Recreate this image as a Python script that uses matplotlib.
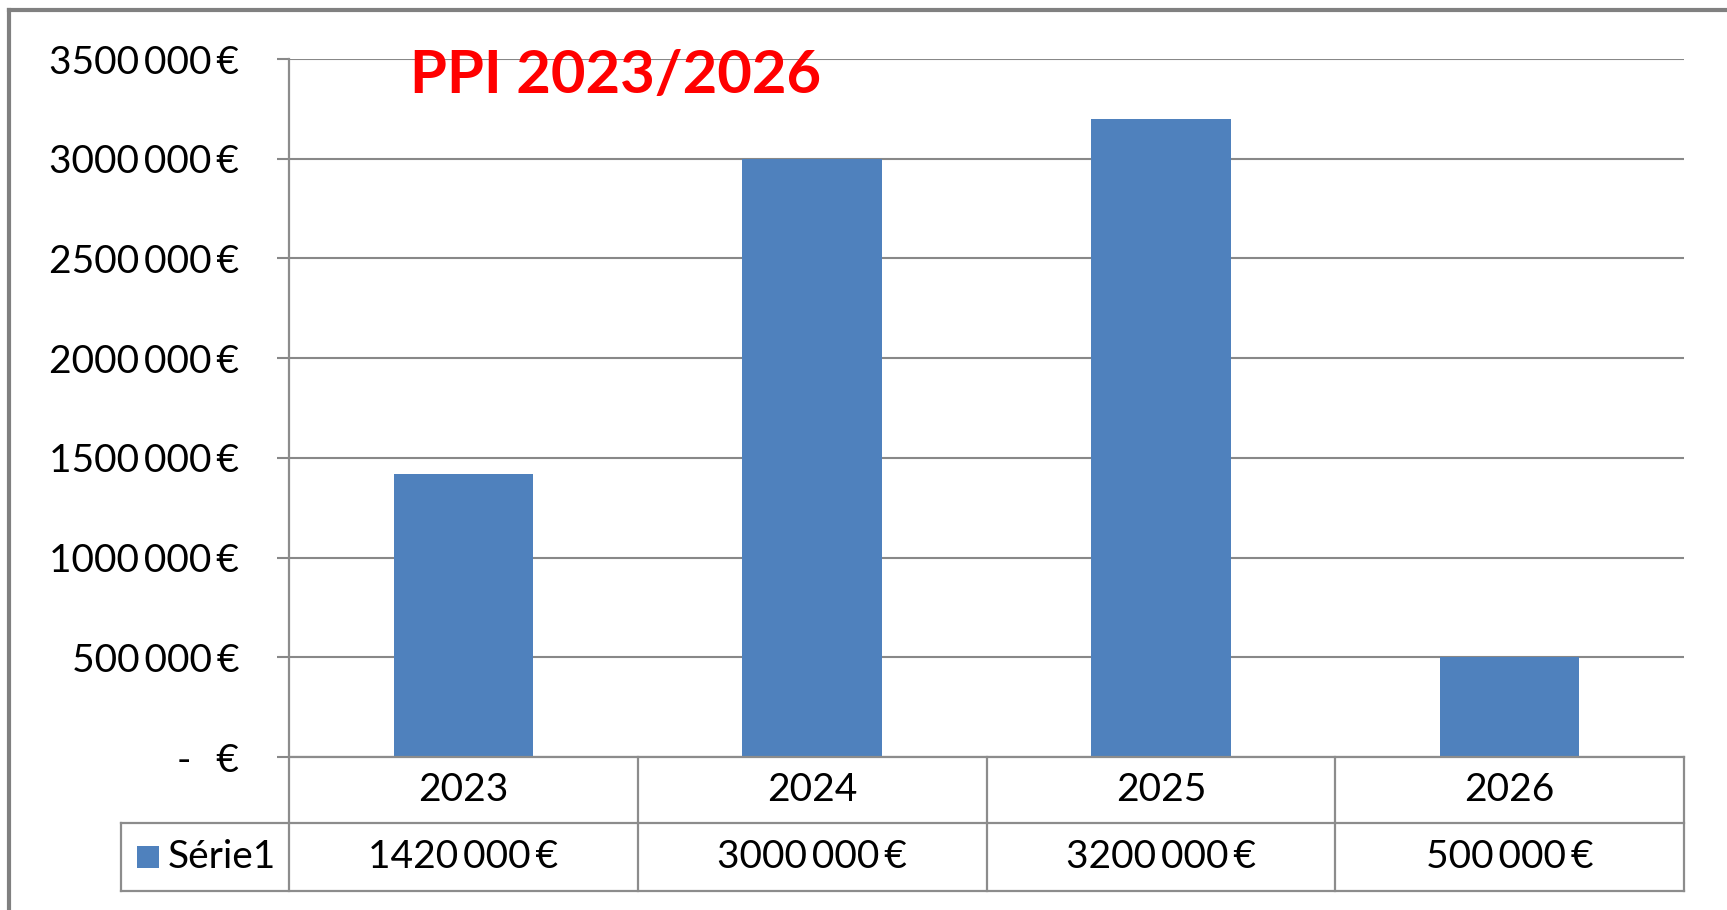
import matplotlib
matplotlib.use("Agg")
import matplotlib.pyplot as plt
from matplotlib.lines import Line2D
from matplotlib.patches import Rectangle
from matplotlib.ticker import FuncFormatter, MultipleLocator
import matplotlib.transforms as mtransforms

# ---- data ----
categories = ["2023", "2024", "2025", "2026"]
values = [1420000, 3000000, 3200000, 500000]
series_name = "Série1"
title = "PPI 2023/2026"
y_max = 3500000
y_step = 500000

plt.rcParams['font.family'] = ['Lato', 'DejaVu Sans']

W, H = 1727, 910
fig = plt.figure(figsize=(W / 100, H / 100), dpi=100)
fig.patch.set_facecolor("white")

# axes placement in pixels
ax_l, ax_r, ax_t, ax_b = 289, 1684, 59, 757
ax = fig.add_axes([ax_l / W, 1 - ax_b / H, (ax_r - ax_l) / W, (ax_b - ax_t) / H])

bar_color = "#4F81BD"
grid_color = "#888888"
line_color = "#8C8C8C"
FS = 28
SP = "\u2009"

x = list(range(len(categories)))
ax.bar(x, values, width=0.4, color=bar_color, zorder=3)
ax.set_xlim(-0.5, len(categories) - 0.5)
ax.set_ylim(0, y_max)


def euro(v, pos=None):
    v = int(round(v))
    if v == 0:
        return "-  " + SP + "€"
    th = v // 1000
    rest = v % 1000
    return f"{th}{SP}{rest:03d}{SP}€"


ax.yaxis.set_major_locator(MultipleLocator(y_step))
ax.yaxis.set_major_formatter(FuncFormatter(euro))
ax.yaxis.grid(True, color=grid_color, linewidth=1.5, zorder=0)
ax.set_axisbelow(True)
ax.tick_params(axis='y', length=9, width=1.5, color=grid_color, pad=27,
               labelsize=FS, labelcolor="black")
ax.tick_params(axis='x', length=0, labelbottom=False)
for s in ax.spines.values():
    s.set_visible(False)

# axes geometry in axes fraction
ah = ax_b - ax_t
aw = ax_r - ax_l
row1 = -(823 - 757) / ah
row2 = -(891 - 757) / ah
leg_left = (121 - ax_l) / aw

blend = mtransforms.blended_transform_factory(ax.transData, ax.transAxes)
ta = ax.transAxes

lk = dict(color=line_color, linewidth=1.6, clip_on=False, zorder=4)
# y axis line extended through table
ax.add_line(Line2D([0, 0], [1, row2], transform=ta, **lk))
# zero line
ax.add_line(Line2D([0, 1], [0, 0], transform=ta, **lk))
# table horizontal lines
ax.add_line(Line2D([leg_left, 1], [row1, row1], transform=ta, **lk))
ax.add_line(Line2D([leg_left, 1], [row2, row2], transform=ta, **lk))
# legend cell left border
ax.add_line(Line2D([leg_left, leg_left], [row1, row2], transform=ta, **lk))
# category boundaries
for i in range(len(categories)):
    xb = i + 0.5
    ax.add_line(Line2D([xb, xb], [0, row2], transform=blend, **lk))

# table texts
for i, (c, v) in enumerate(zip(categories, values)):
    ax.text(i, row1 / 2, c, transform=blend, ha="center", va="center",
            fontsize=FS, color="black", clip_on=False)
    ax.text(i, (row1 + row2) / 2, euro(v), transform=blend, ha="center",
            va="center", fontsize=FS, color="black", clip_on=False)

# legend key
sq = 22
sq_l = (137 - ax_l) / aw
sq_b = -(868 - 757) / ah
ax.add_patch(Rectangle((sq_l, sq_b), sq / aw, sq / ah, transform=ta,
                       facecolor=bar_color, edgecolor="none", clip_on=False))
ax.text((168 - ax_l) / aw, (row1 + row2) / 2, series_name, transform=ta,
        ha="left", va="center", fontsize=FS, color="black", clip_on=False)

# title
fig.text(410 / W, 1 - 93 / H, title, ha="left", va="baseline",
         fontsize=43, fontweight="bold", color="#FF0000")

# outer chart border (top and left visible)
fig.add_artist(Line2D([9 / W, 9 / W], [0, 1 - 10 / H], transform=fig.transFigure,
                      color="#808080", linewidth=3))
fig.add_artist(Line2D([9 / W, 1], [1 - 10 / H, 1 - 10 / H], transform=fig.transFigure,
                      color="#808080", linewidth=3))

fig.savefig("out.png", dpi=100, facecolor="white")
